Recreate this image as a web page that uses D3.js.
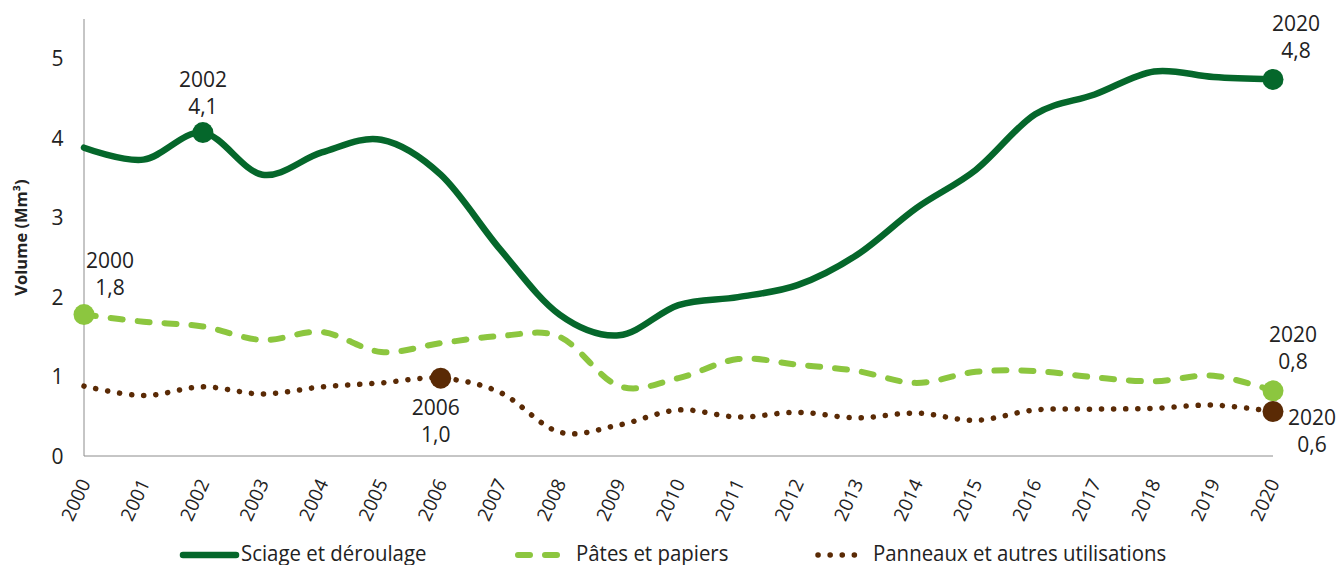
<!DOCTYPE html>
<html>
<head>
<meta charset="utf-8">
<script src="https://cdn.jsdelivr.net/npm/d3@7"></script>
<style>
    body { margin: 0; background: #fff; }
    text { font-family: "Open Sans", sans-serif; fill: #222; }
</style>
</head>
<body>
<div id="chart"></div>
<script>
// data
const years = d3.range(2000, 2021);
const sciage = [3.88, 3.73, 4.07, 3.54, 3.82, 3.98, 3.54, 2.6, 1.78, 1.52, 1.9,
    2.0, 2.15, 2.53, 3.12, 3.6, 4.3, 4.55, 4.84, 4.77, 4.74];
const pates = [1.78, 1.69, 1.63, 1.46, 1.56, 1.31, 1.42, 1.51, 1.5, 0.88, 0.98,
    1.22, 1.15, 1.07, 0.92, 1.06, 1.07, 0.99, 0.94, 1.01, 0.82];
const panneaux = [0.88, 0.76, 0.87, 0.78, 0.87, 0.92, 0.98, 0.8, 0.3, 0.39, 0.58,
    0.49, 0.55, 0.48, 0.54, 0.45, 0.58, 0.59, 0.6, 0.64, 0.56];
const seriesNames = ["Sciage et déroulage", "Pâtes et papiers", "Panneaux et autres utilisations"];
const yTicks = [0, 1, 2, 3, 4, 5];

// highlighted points: series index, year, label value, label offset
const highlights = [
    {s: 0, year: 2002, label: "4,1", dx: 0, dy: -46},
    {s: 0, year: 2020, label: "4,8", dx: 23, dy: -48},
    {s: 1, year: 2000, label: "1,8", dx: 26, dy: -47},
    {s: 1, year: 2020, label: "0,8", dx: 20, dy: -49},
    {s: 2, year: 2006, label: "1,0", dx: -5, dy: 37},
    {s: 2, year: 2020, label: "0,6", dx: 39, dy: 13}
];

const width = 1341, height = 565;
const margin = {top: 19, right: 68, bottom: 109, left: 84};

const svg = d3.select("#chart").append("svg")
    .attr("width", width)
    .attr("height", height);

const x = d3.scaleLinear()
    .domain([2000, 2020])
    .range([margin.left, width - margin.right]);

const y = d3.scaleLinear()
    .domain([0, 5.5])
    .range([height - margin.bottom, margin.top]);

const styles = [
    {color: "#05672b", dash: null, w: 6.5},
    {color: "#8cc63f", dash: "12,15", w: 6},
    {color: "#5a2a05", dash: "0.1,12", w: 5.5}
];
const allSeries = [sciage, pates, panneaux];

// axes
svg.append("line")
    .attr("x1", x(2000)).attr("x2", x(2000))
    .attr("y1", y(5.5)).attr("y2", y(0))
    .attr("stroke", "#8c8c8c").attr("stroke-width", 1);
svg.append("line")
    .attr("x1", x(2000)).attr("x2", x(2020))
    .attr("y1", y(0)).attr("y2", y(0))
    .attr("stroke", "#8c8c8c").attr("stroke-width", 1);

svg.selectAll(".ytick")
    .data(yTicks)
    .enter().append("text")
    .attr("class", "ytick")
    .attr("x", 57.5)
    .attr("y", d => y(d) + 7.5)
    .attr("text-anchor", "middle")
    .style("font-size", "21px")
    .text(d => d);

svg.selectAll(".xtick")
    .data(years)
    .enter().append("text")
    .attr("class", "xtick")
    .attr("text-anchor", "end")
    .attr("transform", d => "translate(" + [x(d) + 7, y(0) + 27] + ") rotate(-65)")
    .style("font-size", "19px")
    .text(d => d);

svg.append("text")
    .attr("transform", "translate(" + [27, (y(0) + y(5.5)) / 2] + ") rotate(-90)")
    .attr("text-anchor", "middle")
    .style("font-size", "16.5px")
    .style("font-weight", "bold")
    .text("Volume (Mm³)");

// lines
const line = d3.line()
    .x((d, i) => x(years[i]))
    .y(d => y(d))
    .curve(d3.curveCardinal.tension(0));

allSeries.forEach((s, k) => {
    svg.append("path")
        .datum(s)
        .attr("d", line)
        .attr("fill", "none")
        .attr("stroke", styles[k].color)
        .attr("stroke-width", styles[k].w)
        .attr("stroke-linecap", "round")
        .attr("stroke-dasharray", styles[k].dash);
});

// markers + labels
highlights.forEach(h => {
    const v = allSeries[h.s][years.indexOf(h.year)];
    const cx = x(h.year), cy = y(v);
    svg.append("circle")
        .attr("cx", cx).attr("cy", cy).attr("r", 10.5)
        .attr("fill", styles[h.s].color);

    svg.append("text")
        .attr("x", cx + h.dx).attr("y", cy + h.dy)
        .attr("text-anchor", "middle")
        .style("font-size", "21px")
        .text(h.year);
    svg.append("text")
        .attr("x", cx + h.dx).attr("y", cy + h.dy + 27)
        .attr("text-anchor", "middle")
        .style("font-size", "21px")
        .text(h.label);
});

// legend
const legendX = [183, 518, 818];
const legendLen = [53, 54, 48];
const legendText = [241, 576, 873];
const legendDash = [null, "12,15", "0.1,12"];

const legend = svg.selectAll(".legend")
    .data(seriesNames)
    .enter().append("g")
    .attr("class", "legend");

legend.append("line")
    .attr("x1", (d, i) => legendX[i])
    .attr("x2", (d, i) => legendX[i] + legendLen[i])
    .attr("y1", 555).attr("y2", 555)
    .attr("stroke", (d, i) => styles[i].color)
    .attr("stroke-width", (d, i) => styles[i].w)
    .attr("stroke-linecap", "round")
    .attr("stroke-dasharray", (d, i) => legendDash[i]);

legend.append("text")
    .attr("transform", (d, i) => "translate(" + [legendText[i], 561] + ") scale(0.95,1)")
    .style("font-size", "21.5px")
    .text(d => d);
</script>
</body>
</html>
